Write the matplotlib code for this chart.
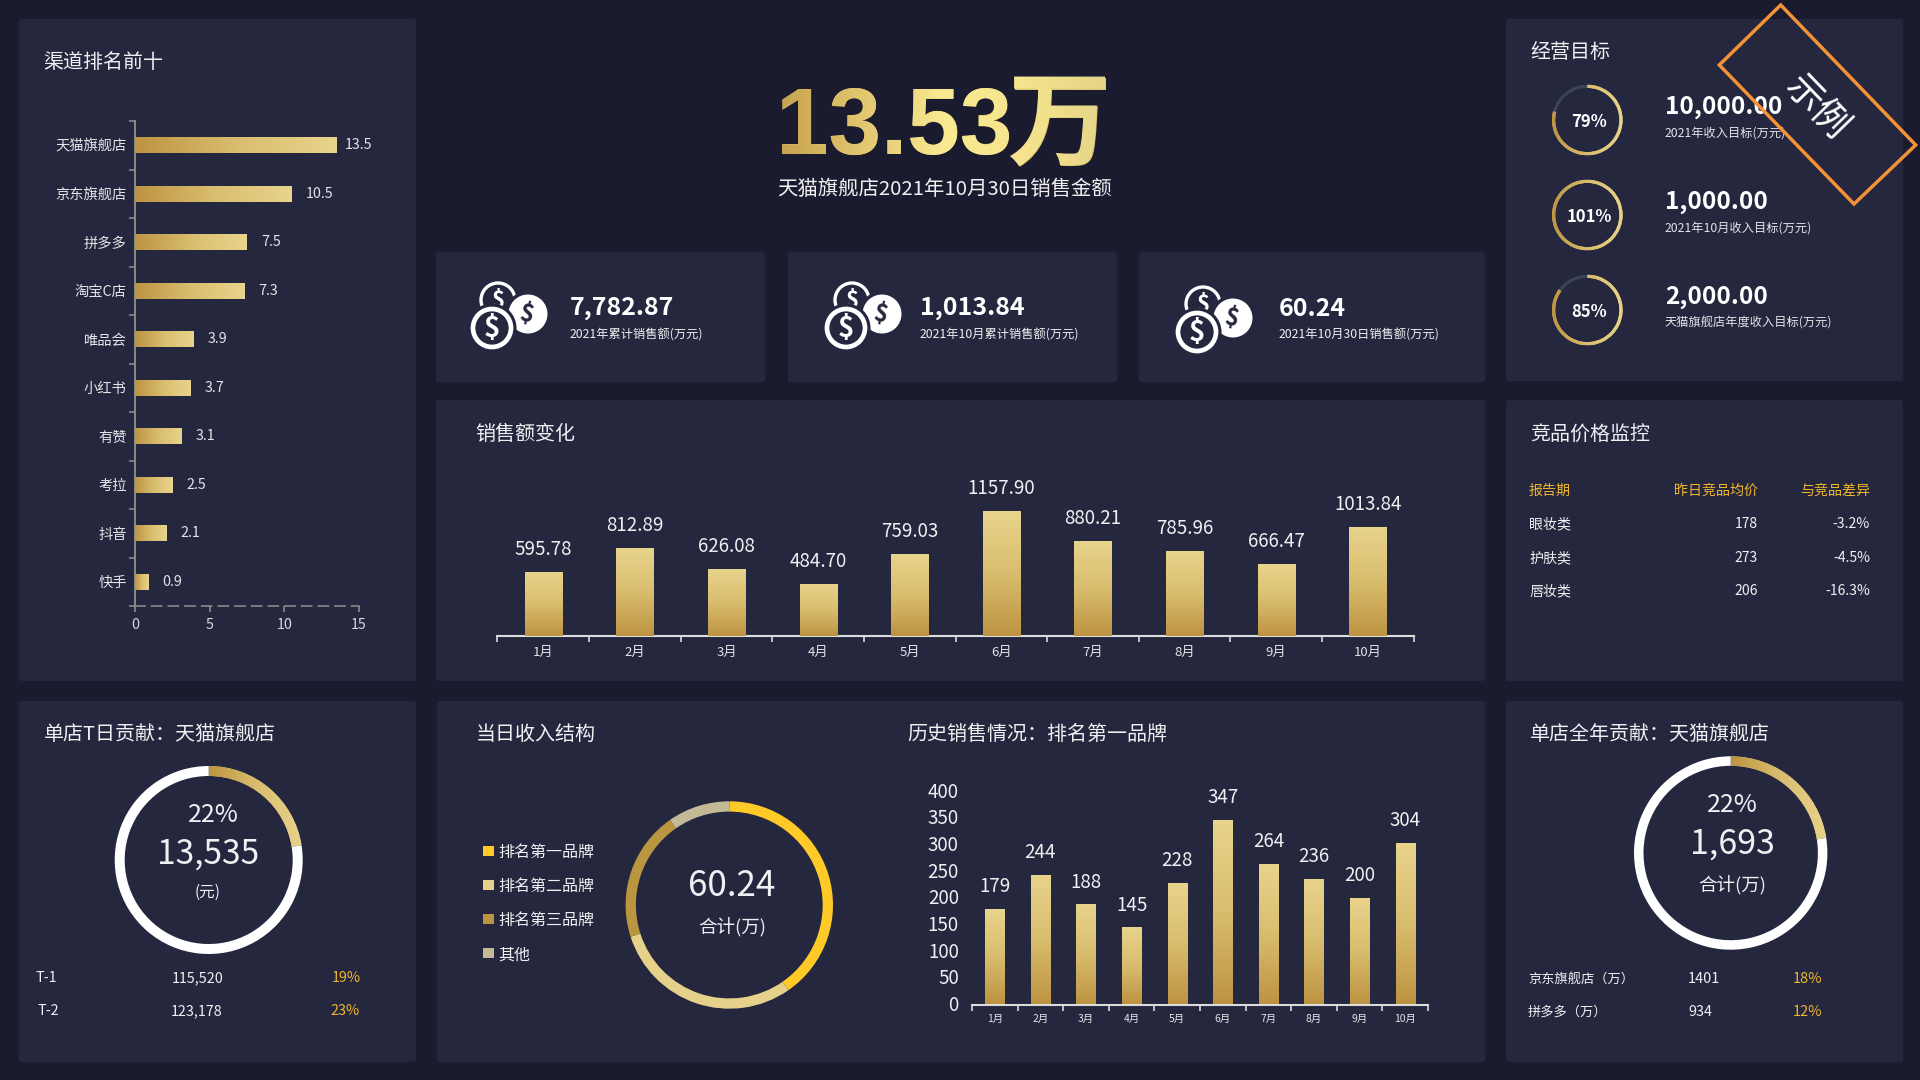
import matplotlib
matplotlib.use('Agg')
import matplotlib.pyplot as plt
import numpy as np
from matplotlib.colors import LinearSegmentedColormap
from matplotlib.font_manager import FontProperties
from matplotlib.patches import Circle, FancyBboxPatch, PathPatch, Polygon, Rectangle
from matplotlib.textpath import TextPath
from matplotlib.transforms import Affine2D, ScaledTranslation

plt.rcParams['font.family'] = ['Noto Sans CJK SC', 'DejaVu Sans']
plt.rcParams['axes.unicode_minus'] = False

# data
channels = ['天猫旗舰店', '京东旗舰店', '拼多多', '淘宝C店', '唯品会', '小红书', '有赞', '考拉', '抖音', '快手']
channel_values = [13.5, 10.5, 7.5, 7.3, 3.9, 3.7, 3.1, 2.5, 2.1, 0.9]

months = ['1月', '2月', '3月', '4月', '5月', '6月', '7月', '8月', '9月', '10月']
sales_values = [595.78, 812.89, 626.08, 484.70, 759.03, 1157.90, 880.21, 785.96, 666.47, 1013.84]
history_values = [179, 244, 188, 145, 228, 347, 264, 236, 200, 304]

kpi_values = ['7,782.87', '1,013.84', '60.24']
kpi_labels = ['2021年累计销售额(万元)', '2021年10月累计销售额(万元)', '2021年10月30日销售额(万元)']

target_pcts = [79, 101, 85]
target_values = ['10,000.00', '1,000.00', '2,000.00']
target_labels = ['2021年收入目标(万元)', '2021年10月收入目标(万元)', '天猫旗舰店年度收入目标(万元)']

price_header = ['报告期', '昨日竞品均价', '与竞品差异']
price_names = ['眼妆类', '护肤类', '唇妆类']
price_avg = ['178', '273', '206']
price_diff = ['-3.2%', '-4.5%', '-16.3%']

brand_names = ['排名第一品牌', '排名第二品牌', '排名第三品牌', '其他']
brand_values = [24.3, 17.9, 12.2, 5.84]
brand_colors = ['#ffc928', '#e5d189', '#ba9640', '#c3b995']

BG = '#1a1b2e'
PANEL = '#25273f'
GOLD = '#efb52c'
TXT = '#f0f0f2'
gold_h = LinearSegmentedColormap.from_list('gold_h', ['#bd9441', '#d9bd6f', '#e8d48b'])
gold_big = LinearSegmentedColormap.from_list('gold_big', ['#c8a44f', '#e2c670', '#f9ea92', '#f5e48d', '#e6d488'])

fig = plt.figure(figsize=(19.2, 10.8), dpi=100, facecolor=BG)
bg = fig.add_axes([0, 0, 1, 1])
bg.set_xlim(0, 1920)
bg.set_ylim(1080, 0)
bg.axis('off')


def px_axes(x0, y0, x1, y1):
    ax = fig.add_axes([x0 / 1920, 1 - y1 / 1080, (x1 - x0) / 1920, (y1 - y0) / 1080])
    ax.patch.set_alpha(0)
    return ax


def panel(x0, y0, x1, y1):
    bg.add_patch(FancyBboxPatch((x0, y0), x1 - x0, y1 - y0, boxstyle='round,pad=0,rounding_size=3',
                                fc=PANEL, ec='none', zorder=1))


def label(x, y, s, px=14, color=TXT, ha='left', weight='normal', **kw):
    # the CJK font sits a little high in its line box
    bg.text(x, y + px * 0.1, s, fontsize=px * 0.72, color=color, ha=ha, va='center', weight=weight, zorder=5, **kw)


def fill_bar(ax, patch, vertical=False):
    x, y = patch.get_x(), patch.get_y()
    w, h = patch.get_width(), patch.get_height()
    g = np.linspace(0, 1, 128)
    g = g[:, None] if vertical else g[None, :]
    im = ax.imshow(g, cmap=gold_h, extent=[x, x + w, y, y + h], origin='lower', aspect='auto', zorder=3)
    im.set_clip_path(patch)


def ring(x, y, r, width, values, colors, start_grad=None):
    ax = px_axes(x - r, y - r, x + r, y + r)
    wedges, _ = ax.pie(values, colors=colors, startangle=90, counterclock=False, radius=1,
                       wedgeprops=dict(width=width / r, linewidth=0))
    if start_grad is not None:
        g = np.linspace(0, 1, 256)[None, :]
        im = ax.imshow(g, cmap=gold_h, extent=start_grad, aspect='auto', zorder=3)
        im.set_clip_path(wedges[0])
    ax.set_xlim(-1, 1)
    ax.set_ylim(-1, 1)
    return ax


def coin_icon(x, y):
    c = 'white'
    bg.add_patch(Circle((x + 6, y - 28), 17, fc='none', ec=c, lw=2.4, zorder=2))
    bg.text(x + 6, y - 27, '$', fontsize=16, color=c, weight='bold', ha='center', va='center', zorder=2)
    bg.add_patch(Circle((x + 36, y - 14), 23, fc=PANEL, ec='none', zorder=3))
    bg.add_patch(Circle((x + 36, y - 14), 19.5, fc=c, ec='none', zorder=3))
    bg.text(x + 35, y - 13, '$', fontsize=17, color=PANEL, weight='bold', ha='center', va='center',
            rotation=-12, zorder=3)
    bg.add_patch(Circle((x, y), 24.5, fc=PANEL, ec='none', zorder=4))
    bg.add_patch(Circle((x, y), 19, fc='none', ec=c, lw=3.4, zorder=4))
    bg.text(x, y + 1, '$', fontsize=20, color=c, weight='bold', ha='center', va='center', zorder=4)


def gold_text(x, base, s, px, family, x0, x1):
    # real text underneath, gradient laid over the same glyph shapes
    fp = FontProperties(family=family, weight='bold')
    bg.text(x, base, s, fontsize=px * 0.72, family=family, weight='bold',
            color='#e2c874', ha='left', va='baseline', zorder=5)
    tp = TextPath((0, 0), s, size=px, prop=fp)
    tr = Affine2D().scale(1, -1).translate(x, base) + bg.transData
    pp = PathPatch(tp, transform=tr, fc='none', ec='none')
    bg.add_patch(pp)
    bb = tp.get_extents()
    t0 = (x + bb.x0 - x0) / (x1 - x0)
    t1 = (x + bb.x1 - x0) / (x1 - x0)
    g = np.linspace(t0, t1, 256)[None, :]
    im = bg.imshow(g, cmap=gold_big, vmin=0, vmax=1, extent=[x + bb.x0, x + bb.x1, base + 25, base - bb.y1 - 5],
                   aspect='auto', zorder=6)
    im.set_clip_path(pp)


# panels
panel(19, 19, 416, 681)
panel(436, 252, 765, 382)
panel(788, 252, 1117, 382)
panel(1139, 252, 1485, 382)
panel(436, 400, 1485, 681)
panel(19, 701, 416, 1062)
panel(437, 701, 1485, 1062)
panel(1506, 19, 1903, 381)
panel(1506, 400, 1903, 681)
panel(1506, 701, 1903, 1062)

# panel titles
label(43, 60, '渠道排名前十', 20)
label(1530, 51, '经营目标', 20)
label(475, 433, '销售额变化', 20)
label(1530, 433, '竞品价格监控', 20)
label(44, 732, '单店T日贡献：天猫旗舰店', 20)
label(476, 732, '当日收入结构', 20)
label(907, 732, '历史销售情况：排名第一品牌', 20)
label(1530, 732, '单店全年贡献：天猫旗舰店', 20)

# headline
gold_text(776, 154, '13.53', 94.5, 'Liberation Sans', 780, 1106)
gold_text(1008, 157, '万', 103, 'Noto Sans CJK SC', 780, 1106)
label(945, 187, '天猫旗舰店2021年10月30日销售金额', 20.4, ha='center')

# kpi cards
for cx, cy, tx, val, sub in zip([492, 846, 1197], [328, 328, 332], [570, 920, 1279], kpi_values, kpi_labels):
    coin_icon(cx, cy)
    label(tx, 306, val, 25, color='white', weight='bold')
    label(tx, 334, sub, 12.2)

# channel ranking
ax = px_axes(135, 121, 359, 606)
pos = np.arange(len(channels)) + 0.5
bars = ax.barh(pos, channel_values, height=0.34, color='#d9bd6f', zorder=2)
for i, b in enumerate(bars):
    fill_bar(ax, b)
    ax.annotate(f'{channel_values[i]}', (channel_values[i], pos[i]), xytext=(6 if i == 0 else 10, 0),
                textcoords='offset points', va='center', color='#e4e4e8', fontsize=10.3)
ax.set_xlim(0, 15)
ax.set_ylim(10, 0)
ax.set_yticks(np.arange(11))
ax.set_yticklabels([])
ax.set_yticks(pos, channels, minor=True)
ax.set_xticks([0, 5, 10, 15])
ax.tick_params(axis='y', which='major', length=4, width=1.2, color='#8a8a8a', direction='out')
ax.tick_params(axis='y', which='minor', length=0, pad=6, labelsize=10.3, labelcolor='#e4e4e8')
ax.tick_params(axis='x', length=4, width=1.2, color='#8a8a8a', labelsize=10.3, labelcolor='#d8d8dc', pad=4.5)
for s in ['top', 'right']:
    ax.spines[s].set_visible(False)
ax.spines['left'].set_color('#8a8a8a')
ax.spines['left'].set_linewidth(1.4)
ax.spines['bottom'].set_color('#8a8a8a')
ax.spines['bottom'].set_linewidth(1.2)
ax.spines['bottom'].set_linestyle((0, (6, 4)))

# monthly sales
ax = px_axes(497.5, 507, 1413.5, 636)
pos = np.arange(len(months)) + 0.5
bars = ax.bar(pos, sales_values, width=0.405, color='#d9bd6f', zorder=2)
for i, b in enumerate(bars):
    fill_bar(ax, b, vertical=True)
    ax.annotate(f'{sales_values[i]:.2f}', (pos[i], sales_values[i]), xytext=(0, 16.2), textcoords='offset points',
                ha='center', va='center', color=TXT, fontsize=13.5)
ax.set_xlim(0, 10)
ax.set_ylim(0, 1198)
ax.set_xticks(np.arange(11))
ax.set_xticklabels([])
ax.set_xticks(pos, months, minor=True)
ax.tick_params(axis='x', which='major', length=4, width=1.2, color='#dcdcdc')
ax.tick_params(axis='x', which='minor', length=0, pad=7.5, labelsize=9.5, labelcolor='#e4e4e8')
ax.set_yticks([])
for s in ['top', 'right', 'left']:
    ax.spines[s].set_visible(False)
ax.spines['bottom'].set_color('#dcdcdc')
ax.spines['bottom'].set_linewidth(1.5)

# history bars
ax = px_axes(972, 791.5, 1428, 1004.5)
bars = ax.bar(pos, history_values, width=0.42, color='#d9bd6f', zorder=2)
for i, b in enumerate(bars):
    fill_bar(ax, b, vertical=True)
    ax.annotate(f'{history_values[i]}', (pos[i], history_values[i]), xytext=(0, 16), textcoords='offset points',
                ha='center', va='center', color=TXT, fontsize=13.5)
ax.set_xlim(0, 10)
ax.set_ylim(0, 400)
ax.set_xticks(np.arange(11))
ax.set_xticklabels([])
ax.set_xticks(pos, months, minor=True)
ax.set_yticks(np.arange(0, 401, 50))
ax.tick_params(axis='x', which='major', length=4, width=1.2, color='#dcdcdc')
ax.tick_params(axis='x', which='minor', length=0, pad=6.5, labelsize=7.5, labelcolor='#e4e4e8')
ax.tick_params(axis='y', length=0, pad=9.5, labelsize=13.5, labelcolor=TXT)
for t in ax.get_yticklabels():
    t.set_transform(t.get_transform() + ScaledTranslation(0, 1.2 / 72, fig.dpi_scale_trans))
for s in ['top', 'right', 'left']:
    ax.spines[s].set_visible(False)
ax.spines['bottom'].set_color('#dcdcdc')
ax.spines['bottom'].set_linewidth(1.5)

# targets
for i, y in enumerate([120, 215, 310]):
    p = target_pcts[i]
    ring(1587.3, y, 35.3, 3.2, [min(p, 100), max(100 - p, 0)], ['#d9bd6f', '#3a4358'], start_grad=[-1, 1, -1, 1])
    label(1589, y, f'{p}%', 16.7, color='white', weight='bold', ha='center')
    label(1665, y - 15, target_values[i], 24.5, color='white', weight='bold')
    label(1665, y + 12, target_labels[i], 12.2, color='#e4e4e8')

# price table
for x, s, ha in zip([1529, 1758, 1870], price_header, ['left', 'right', 'right']):
    label(x, 489, s, 14, color=GOLD, ha=ha)
for i, y in enumerate([523, 556.5, 590]):
    label(1529, y, price_names[i], 14)
    label(1758, y, price_avg[i], 14, ha='right')
    label(1870, y, price_diff[i], 14, ha='right')

# store share, T day
ring(208.7, 860, 94, 10, [22.5, 77.5], ['#d9bd6f', 'white'], start_grad=[0, 1, 0, 1])
label(213, 813, '22%', 25, ha='center')
label(208, 851, '13,535', 33.5, ha='center')
label(208, 891, '(元)', 15.6, ha='center')
label(36, 977, 'T-1', 14.4)
label(38, 1010, 'T-2', 14.4)
label(198, 977, '115,520', 14.4, ha='center')
label(197, 1010, '123,178', 14.4, ha='center')
label(346, 977, '19%', 14.4, color=GOLD, ha='center')
label(345, 1010, '23%', 14.4, color=GOLD, ha='center')

# income structure
ring(729.3, 905, 103.7, 10.3, brand_values, brand_colors)
for y, name, col in zip([851, 885, 919, 953], brand_names, brand_colors):
    bg.add_patch(Rectangle((483, y - 5.3), 10.6, 10.6, fc=col, ec='none', zorder=4))
    label(498, y, name, 16)
label(732, 882, f'{sum(brand_values):.2f}', 35, ha='center')
label(732, 926, '合计(万)', 18.5, ha='center')

# store share, full year
ring(1730.7, 853, 96.7, 9.5, [22.5, 77.5], ['#d9bd6f', 'white'], start_grad=[0, 1, 0, 1])
label(1732, 802, '22%', 25, ha='center')
label(1732, 841, '1,693', 34, ha='center')
label(1732, 884, '合计(万)', 18.5, ha='center')
label(1528, 978, '京东旗舰店（万）', 13.2)
label(1528, 1011, '拼多多（万）', 13.2)
label(1688, 978, '1401', 14.5)
label(1688, 1011, '934', 14.5)
label(1793, 978, '18%', 14.5, color=GOLD)
label(1793, 1011, '12%', 14.5, color=GOLD)

# sample stamp
bg.add_patch(Polygon([(1780.7, 5), (1915.7, 145), (1854, 204), (1719.3, 65)], closed=True, fc='none',
                     ec='#f39237', lw=2.5, zorder=7))
bg.text(1816, 108, '示例', fontsize=26.5, color='white', rotation=-46, rotation_mode='anchor',
        ha='center', va='center', zorder=7)

bg.set_xlim(0, 1920)
bg.set_ylim(1080, 0)
fig.savefig('out.png', dpi=100, facecolor=BG)
